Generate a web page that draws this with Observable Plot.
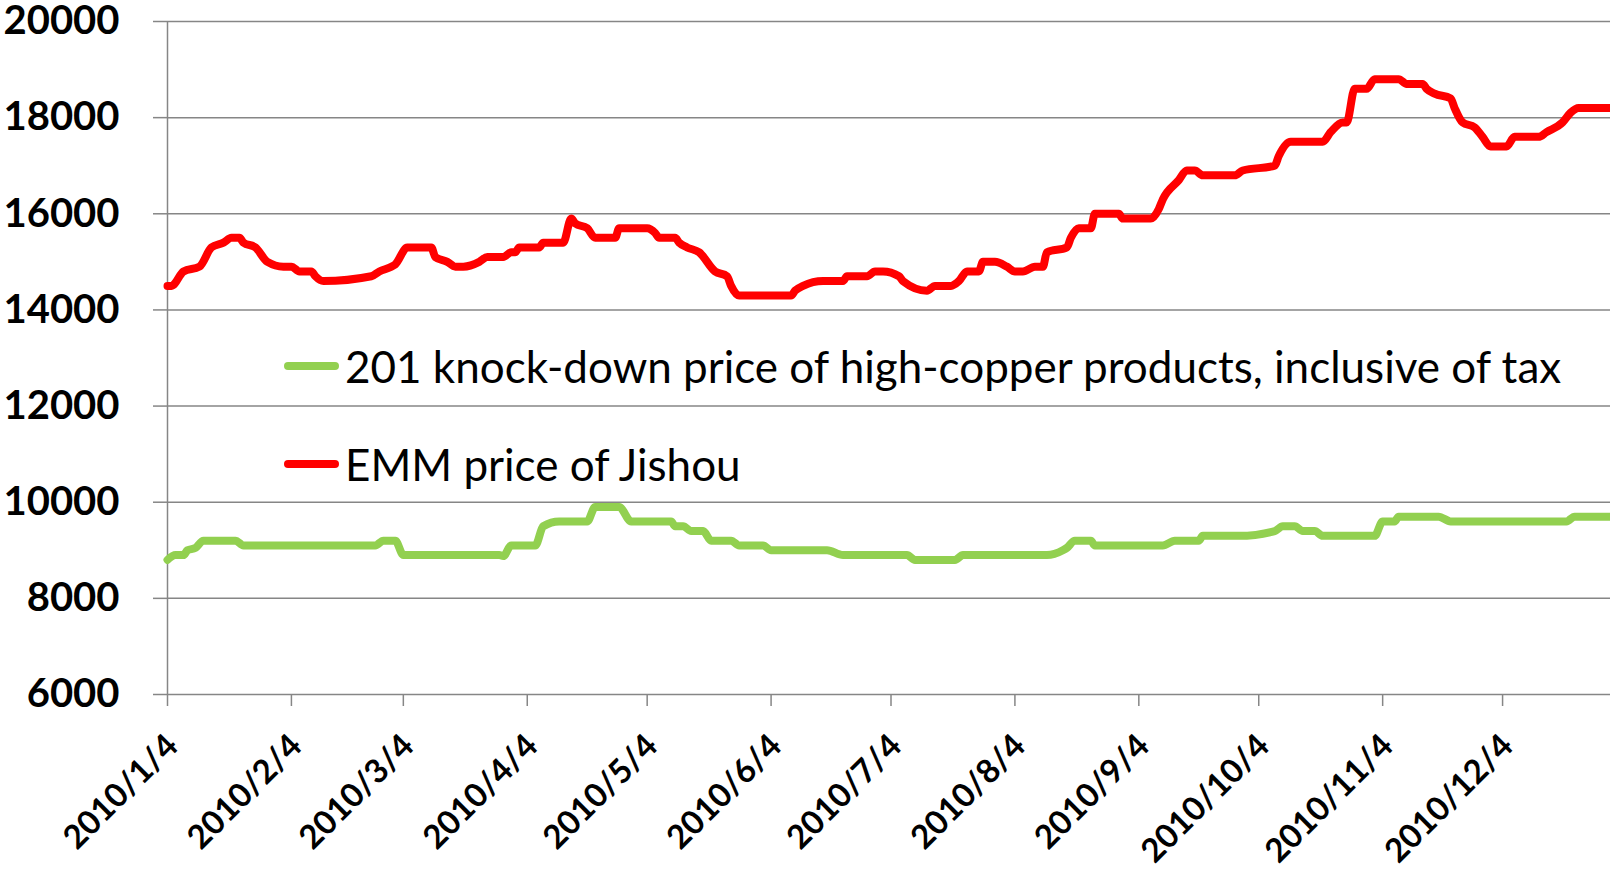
<!DOCTYPE html>
<html>
<head>
<meta charset="utf-8">
<script src="https://cdn.jsdelivr.net/npm/d3@7"></script>
<script src="https://cdn.jsdelivr.net/npm/@observablehq/plot@0.6"></script>
<style>
  html, body { margin: 0; padding: 0; background: #fff; }
  #wrap { position: relative; width: 1610px; height: 875px; font-family: Lato, "Open Sans", sans-serif; }
  #legend { position: absolute; left: 284px; top: 344px; }
  .row { display: flex; align-items: center; height: 44px; font-size: 44px; line-height: 1; color: #000; white-space: nowrap; }
  .row + .row { margin-top: 54px; }
  .sw { width: 55px; height: 8px; border-radius: 4px; margin-right: 6px; }
</style>
</head>
<body>
<div id="wrap"></div>
<script>
// ---- data ----
const seriesNames = ["201 knock-down price of high-copper products, inclusive of tax", "EMM price of Jishou"];
const seriesColors = ["#92D050", "#FF0000"];

const greenDates = ["2010-01-04","2010-01-06","2010-01-08","2010-01-09","2010-01-11","2010-01-13","2010-01-21","2010-01-23","2010-02-25","2010-02-27","2010-03-02","2010-03-04","2010-03-28","2010-03-29","2010-03-31","2010-04-06","2010-04-08","2010-04-12","2010-04-19","2010-04-21","2010-04-27","2010-04-30","2010-05-10","2010-05-11","2010-05-13","2010-05-15","2010-05-18","2010-05-20","2010-05-25","2010-05-27","2010-06-02","2010-06-04","2010-06-18","2010-06-22","2010-07-08","2010-07-10","2010-07-20","2010-07-22","2010-08-12","2010-08-16","2010-08-17","2010-08-19","2010-08-23","2010-08-24","2010-09-10","2010-09-13","2010-09-19","2010-09-20","2010-09-29","2010-10-08","2010-10-10","2010-10-13","2010-10-15","2010-10-18","2010-10-20","2010-11-02","2010-11-04","2010-11-07","2010-11-08","2010-11-18","2010-11-21","2010-12-20","2010-12-22","2010-12-31"];
const greenValues = [8800,8900,8900,9000,9050,9200,9200,9100,9100,9200,9200,8900,8900,8880,9100,9100,9500,9600,9600,9900,9900,9600,9600,9500,9500,9400,9400,9200,9200,9100,9100,9000,9000,8900,8900,8800,8800,8900,8900,9000,9050,9200,9200,9100,9100,9200,9200,9300,9300,9400,9500,9500,9400,9400,9300,9300,9600,9600,9700,9700,9600,9600,9700,9700];

const redDates = ["2010-01-04","2010-01-05","2010-01-08","2010-01-12","2010-01-15","2010-01-18","2010-01-20","2010-01-22","2010-01-23","2010-01-26","2010-01-29","2010-02-02","2010-02-04","2010-02-06","2010-02-09","2010-02-10","2010-02-12","2010-02-24","2010-02-26","2010-03-01","2010-03-02","2010-03-05","2010-03-11","2010-03-12","2010-03-15","2010-03-17","2010-03-19","2010-03-23","2010-03-25","2010-03-29","2010-03-31","2010-04-01","2010-04-02","2010-04-07","2010-04-08","2010-04-13","2010-04-15","2010-04-16","2010-04-19","2010-04-21","2010-04-26","2010-04-27","2010-05-04","2010-05-06","2010-05-07","2010-05-11","2010-05-12","2010-05-14","2010-05-17","2010-05-21","2010-05-24","2010-05-25","2010-05-27","2010-06-09","2010-06-10","2010-06-12","2010-06-17","2010-06-22","2010-06-23","2010-06-28","2010-06-30","2010-07-02","2010-07-06","2010-07-07","2010-07-13","2010-07-15","2010-07-19","2010-07-21","2010-07-23","2010-07-26","2010-07-27","2010-07-30","2010-08-02","2010-08-04","2010-08-06","2010-08-09","2010-08-11","2010-08-12","2010-08-17","2010-08-18","2010-08-20","2010-08-23","2010-08-24","2010-08-30","2010-08-31","2010-09-07","2010-09-09","2010-09-10","2010-09-14","2010-09-16","2010-09-18","2010-09-20","2010-09-28","2010-09-30","2010-10-08","2010-10-09","2010-10-12","2010-10-20","2010-10-22","2010-10-25","2010-10-26","2010-10-28","2010-10-31","2010-11-02","2010-11-08","2010-11-10","2010-11-14","2010-11-15","2010-11-17","2010-11-21","2010-11-22","2010-11-24","2010-11-27","2010-11-29","2010-12-01","2010-12-05","2010-12-07","2010-12-13","2010-12-15","2010-12-19","2010-12-21","2010-12-23","2010-12-31"];
const redValues = [14500,14500,14800,14900,15300,15400,15500,15500,15400,15300,15000,14900,14900,14800,14800,14700,14600,14700,14800,14900,14950,15300,15300,15100,15000,14900,14900,15000,15100,15100,15200,15200,15300,15300,15400,15400,15900,15800,15700,15500,15500,15700,15700,15600,15500,15500,15400,15300,15200,14800,14700,14500,14300,14300,14400,14500,14600,14600,14700,14700,14800,14800,14700,14600,14400,14500,14500,14600,14800,14800,15000,15000,14900,14800,14800,14900,14900,15200,15300,15500,15700,15700,16000,16000,15900,15900,16100,16300,16700,16900,16900,16800,16800,16900,17000,17200,17500,17500,17700,17900,17900,18600,18600,18800,18800,18700,18700,18600,18500,18400,18200,17900,17800,17600,17400,17400,17600,17600,17700,17900,18100,18200,18200];

const yTicks = [6000, 8000, 10000, 12000, 14000, 16000, 18000, 20000];
const xTickDates = ["2010-01-04","2010-02-04","2010-03-04","2010-04-04","2010-05-04","2010-06-04","2010-07-04","2010-08-04","2010-09-04","2010-10-04","2010-11-04","2010-12-04"];
const xTickLabels = ["2010/1/4","2010/2/4","2010/3/4","2010/4/4","2010/5/4","2010/6/4","2010/7/4","2010/8/4","2010/9/4","2010/10/4","2010/11/4","2010/12/4"];
const xDomain = ["2010-01-04", "2010-12-31"];

// ---- build ----
const green = greenDates.map((d, i) => ({date: new Date(d), value: greenValues[i]}));
const red = redDates.map((d, i) => ({date: new Date(d), value: redValues[i]}));
const xticks = xTickDates.map((d, i) => ({date: new Date(d), label: xTickLabels[i]}));
const grid = "#868686";

const chart = Plot.plot({
  width: 1610,
  height: 875,
  marginLeft: 167,
  marginRight: 0,
  marginTop: 21,
  marginBottom: 181,
  style: {fontFamily: "Lato, 'Open Sans', sans-serif", background: "#fff", overflow: "visible"},
  x: {type: "utc", domain: xDomain.map(d => new Date(d))},
  y: {domain: [6000, 20000]},
  marks: [
    Plot.gridY(yTicks, {stroke: grid, strokeOpacity: 1, strokeWidth: 1.5}),
    Plot.ruleX([new Date(xDomain[0])], {stroke: grid, strokeWidth: 1.5}),
    Plot.axisY(yTicks, {tickSize: 14, tickPadding: 34, stroke: grid, strokeWidth: 1.5, fill: "#000", fontSize: 40, fontWeight: "bold", tickFormat: d => String(d), label: null}),
    Plot.axisX(xticks.map(d => d.date), {tickSize: 12, stroke: grid, strokeWidth: 1.5, fill: "none", label: null}),
    Plot.text(xticks, {x: "date", text: "label", frameAnchor: "bottom", rotate: -45, textAnchor: "end", lineAnchor: "middle", dx: 5, dy: 46, fontSize: 33, fontWeight: "bold", fill: "#000"}),
    Plot.lineY(green, {x: "date", y: "value", stroke: seriesColors[0], strokeWidth: 8, curve: "monotone-x", strokeLinejoin: "round", strokeLinecap: "round"}),
    Plot.lineY(red, {x: "date", y: "value", stroke: seriesColors[1], strokeWidth: 8, curve: "monotone-x", strokeLinejoin: "round", strokeLinecap: "round"})
  ]
});

const wrap = document.getElementById("wrap");
wrap.appendChild(chart);
const legend = document.createElement("div");
legend.id = "legend";
seriesNames.forEach((name, i) => {
  const row = document.createElement("div");
  row.className = "row";
  const sw = document.createElement("span");
  sw.className = "sw";
  sw.style.background = seriesColors[i];
  const t = document.createElement("span");
  t.textContent = name;
  row.appendChild(sw);
  row.appendChild(t);
  legend.appendChild(row);
});
wrap.appendChild(legend);
</script>
</body>
</html>
